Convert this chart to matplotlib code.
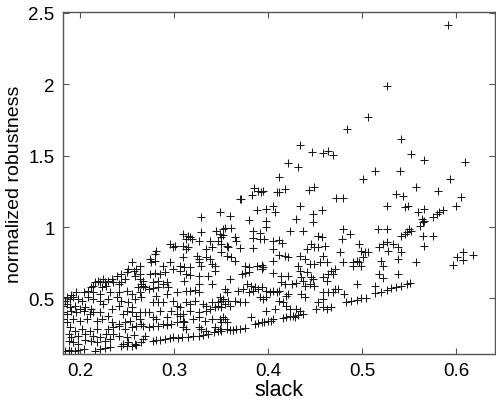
import numpy as np
import matplotlib
matplotlib.use('Agg')
import matplotlib.pyplot as plt

#points, grouped by region (slack, normalized robustness)
left_band = [
    (0.186, 0.508), (0.191, 0.524), (0.196, 0.548), (0.214, 0.590), (0.221, 0.613), (0.225, 0.636),
    (0.230, 0.625), (0.234, 0.636), (0.239, 0.660), (0.244, 0.671), (0.251, 0.706), (0.257, 0.695),
    (0.255, 0.753), (0.250, 0.683), (0.260, 0.706), (0.264, 0.671), (0.258, 0.660),
    (0.216, 0.613), (0.219, 0.625), (0.227, 0.618), (0.235, 0.613), (0.241, 0.601), (0.244, 0.613),
    (0.248, 0.636), (0.264, 0.636), (0.265, 0.601),
    (0.212, 0.578), (0.223, 0.578), (0.228, 0.590), (0.262, 0.578), (0.267, 0.590),
    (0.204, 0.543), (0.209, 0.555), (0.214, 0.543), (0.221, 0.531), (0.232, 0.543), (0.241, 0.543),
    (0.250, 0.555), (0.255, 0.531), (0.264, 0.543),
    (0.184, 0.485), (0.189, 0.497), (0.193, 0.508), (0.198, 0.497), (0.202, 0.485), (0.209, 0.508),
    (0.214, 0.497), (0.221, 0.485), (0.230, 0.497), (0.239, 0.508), (0.244, 0.485), (0.251, 0.473),
    (0.258, 0.497), (0.265, 0.508),
    (0.182, 0.450), (0.186, 0.461), (0.189, 0.438), (0.195, 0.450), (0.200, 0.427), (0.205, 0.438),
    (0.212, 0.427), (0.225, 0.461), (0.234, 0.427), (0.241, 0.450), (0.250, 0.415), (0.255, 0.438),
    (0.182, 0.403), (0.186, 0.392), (0.191, 0.415), (0.196, 0.403), (0.204, 0.415), (0.211, 0.392),
    (0.214, 0.403), (0.221, 0.408), (0.230, 0.380), (0.246, 0.392), (0.255, 0.403), (0.260, 0.380),
    (0.182, 0.357), (0.186, 0.333), (0.193, 0.357), (0.200, 0.345), (0.207, 0.357), (0.218, 0.345),
    (0.223, 0.357), (0.234, 0.333), (0.241, 0.322), (0.248, 0.333), (0.253, 0.345), (0.264, 0.357),
    (0.189, 0.298), (0.195, 0.275), (0.202, 0.287), (0.211, 0.275), (0.218, 0.287), (0.230, 0.287),
    (0.235, 0.298), (0.242, 0.310), (0.248, 0.287), (0.255, 0.298), (0.260, 0.310), (0.265, 0.322),
    (0.188, 0.252), (0.191, 0.228), (0.198, 0.240), (0.205, 0.252), (0.214, 0.240), (0.221, 0.228),
    (0.228, 0.252), (0.235, 0.252), (0.241, 0.240), (0.250, 0.228), (0.257, 0.245),
    (0.188, 0.205), (0.193, 0.193), (0.198, 0.181), (0.205, 0.212), (0.212, 0.205), (0.218, 0.193),
    (0.227, 0.205), (0.232, 0.217), (0.246, 0.181), (0.251, 0.193), (0.258, 0.181), (0.265, 0.198),
    (0.184, 0.135), (0.188, 0.140), (0.191, 0.135), (0.195, 0.135), (0.198, 0.140), (0.204, 0.147),
    (0.216, 0.135), (0.221, 0.147), (0.227, 0.151), (0.232, 0.158), (0.244, 0.165), (0.250, 0.170),
    (0.255, 0.170), (0.260, 0.175),
]

centre_band = [
    (0.349, 1.103), (0.329, 1.068), (0.281, 0.834), (0.280, 0.811), (0.296, 0.881), (0.299, 0.858),
    (0.301, 0.870), (0.310, 0.951), (0.315, 0.939), (0.317, 0.928), (0.313, 0.916), (0.319, 0.916),
    (0.310, 0.870), (0.315, 0.858), (0.313, 0.846), (0.329, 0.963), (0.326, 0.904), (0.338, 0.904),
    (0.334, 0.846), (0.340, 0.858), (0.345, 0.974), (0.349, 0.951), (0.350, 0.928), (0.352, 0.986),
    (0.347, 0.904), (0.350, 0.881), (0.310, 0.788), (0.324, 0.800), (0.327, 0.776), (0.334, 0.788),
    (0.338, 0.776), (0.350, 0.823), (0.274, 0.776), (0.276, 0.753), (0.280, 0.765), (0.306, 0.730),
    (0.311, 0.718), (0.317, 0.718), (0.326, 0.753), (0.329, 0.730), (0.340, 0.741), (0.343, 0.730),
    (0.264, 0.730), (0.288, 0.730), (0.296, 0.753), (0.299, 0.706),
    (0.274, 0.671), (0.280, 0.678), (0.285, 0.671), (0.290, 0.683), (0.306, 0.695), (0.313, 0.671),
    (0.317, 0.664), (0.327, 0.660), (0.336, 0.660), (0.343, 0.695), (0.267, 0.625), (0.278, 0.613),
    (0.283, 0.625), (0.288, 0.601), (0.292, 0.613), (0.311, 0.625), (0.327, 0.601), (0.340, 0.601),
    (0.269, 0.578), (0.273, 0.566), (0.278, 0.571), (0.283, 0.578), (0.294, 0.578), (0.303, 0.543),
    (0.313, 0.555), (0.317, 0.555), (0.322, 0.562), (0.327, 0.543), (0.292, 0.531), (0.281, 0.520),
    (0.278, 0.473), (0.283, 0.478), (0.288, 0.473), (0.299, 0.485), (0.303, 0.450), (0.306, 0.438),
    (0.313, 0.473), (0.317, 0.461), (0.322, 0.485), (0.331, 0.461), (0.334, 0.450), (0.340, 0.473),
    (0.347, 0.473), (0.350, 0.485), (0.352, 0.497),
    (0.264, 0.403), (0.269, 0.403), (0.273, 0.403), (0.285, 0.415), (0.297, 0.415), (0.303, 0.392),
    (0.306, 0.380), (0.310, 0.392), (0.317, 0.415), (0.326, 0.403), (0.334, 0.415), (0.338, 0.427),
    (0.343, 0.438), (0.347, 0.450), (0.278, 0.368), (0.281, 0.357), (0.292, 0.368), (0.310, 0.345),
    (0.311, 0.333), (0.320, 0.357), (0.327, 0.368), (0.333, 0.345), (0.340, 0.357), (0.349, 0.357),
    (0.350, 0.333), (0.267, 0.310), (0.273, 0.298), (0.278, 0.305), (0.283, 0.310), (0.288, 0.322),
    (0.292, 0.315), (0.297, 0.322), (0.303, 0.333), (0.310, 0.298), (0.313, 0.287), (0.326, 0.298),
    (0.329, 0.287), (0.334, 0.275), (0.343, 0.298), (0.349, 0.287), (0.269, 0.240), (0.267, 0.217),
    (0.278, 0.205), (0.281, 0.210), (0.285, 0.212), (0.290, 0.217), (0.296, 0.221), (0.299, 0.228),
    (0.304, 0.224), (0.308, 0.228), (0.315, 0.233), (0.320, 0.240), (0.326, 0.240), (0.331, 0.247),
    (0.336, 0.252), (0.342, 0.263), (0.347, 0.270), (0.350, 0.275),
]

mid_band = [
    (0.421, 1.448), (0.432, 1.417), (0.411, 1.347), (0.385, 1.271), (0.389, 1.252), (0.395, 1.250),
    (0.383, 1.224), (0.392, 1.242), (0.370, 1.196), (0.371, 1.198), (0.434, 1.145), (0.388, 1.121),
    (0.398, 1.126), (0.405, 1.145), (0.407, 1.107), (0.359, 1.079), (0.380, 1.051), (0.398, 1.044),
    (0.398, 0.998), (0.430, 1.056), (0.423, 0.974), (0.437, 0.974), (0.384, 0.974), (0.391, 0.958),
    (0.354, 0.991), (0.361, 0.991), (0.352, 0.944), (0.365, 0.928), (0.366, 0.904), (0.384, 0.921),
    (0.391, 0.916), (0.396, 0.916), (0.405, 0.904), (0.411, 0.911), (0.415, 0.886), (0.356, 0.870),
    (0.357, 0.858), (0.370, 0.851), (0.384, 0.851), (0.405, 0.846), (0.412, 0.804), (0.418, 0.795),
    (0.421, 0.788), (0.434, 0.795), (0.432, 0.730), (0.356, 0.795), (0.361, 0.788), (0.365, 0.765),
    (0.375, 0.730), (0.380, 0.718), (0.388, 0.730), (0.393, 0.734), (0.395, 0.718), (0.405, 0.765),
    (0.409, 1.242), (0.412, 1.247), (0.418, 1.266),
    (0.372, 0.671), (0.375, 0.678), (0.380, 0.683), (0.393, 0.706), (0.405, 0.678), (0.414, 0.660),
    (0.421, 0.655), (0.434, 0.695), (0.435, 0.648), (0.359, 0.636), (0.377, 0.601), (0.382, 0.590),
    (0.386, 0.578), (0.389, 0.566), (0.393, 0.578), (0.414, 0.613), (0.418, 0.601), (0.425, 0.601),
    (0.430, 0.608), (0.354, 0.566), (0.349, 0.508), (0.356, 0.543), (0.368, 0.555), (0.373, 0.566),
    (0.380, 0.543), (0.384, 0.555), (0.398, 0.555), (0.402, 0.543), (0.405, 0.555), (0.409, 0.543),
    (0.412, 0.555), (0.419, 0.520), (0.421, 0.531), (0.365, 0.485), (0.370, 0.473), (0.375, 0.473),
    (0.354, 0.461), (0.359, 0.450), (0.357, 0.485), (0.350, 0.438), (0.391, 0.508), (0.395, 0.497),
    (0.398, 0.508), (0.412, 0.485), (0.416, 0.473), (0.419, 0.450), (0.398, 0.415), (0.407, 0.427),
    (0.423, 0.427), (0.430, 0.427), (0.434, 0.415), (0.352, 0.368), (0.354, 0.357), (0.356, 0.333),
    (0.382, 0.368), (0.428, 0.368), (0.356, 0.287), (0.359, 0.282), (0.363, 0.282), (0.366, 0.287),
    (0.370, 0.287), (0.375, 0.294), (0.386, 0.322), (0.389, 0.329), (0.393, 0.333), (0.396, 0.333),
    (0.400, 0.345), (0.403, 0.345), (0.405, 0.357), (0.416, 0.361), (0.419, 0.368), (0.423, 0.380),
    (0.426, 0.380), (0.432, 0.385),
]

right_band = [
    (0.484, 1.685), (0.434, 1.573), (0.447, 1.522), (0.458, 1.517), (0.464, 1.529), (0.469, 1.505),
    (0.443, 1.261), (0.449, 1.278), (0.472, 1.203), (0.480, 1.203), (0.448, 1.091), (0.457, 1.121),
    (0.448, 1.037), (0.453, 0.939), (0.457, 0.928), (0.446, 0.881), (0.449, 0.858), (0.453, 0.858),
    (0.460, 0.870), (0.441, 0.846), (0.458, 0.800), (0.439, 0.776), (0.444, 0.741), (0.449, 0.741),
    (0.455, 0.753), (0.462, 0.753), (0.441, 0.683), (0.467, 0.695), (0.471, 0.706), (0.469, 0.671),
    (0.464, 0.671), (0.437, 0.625), (0.446, 0.648), (0.448, 0.636), (0.458, 0.648), (0.462, 0.625),
    (0.439, 0.590), (0.444, 0.601), (0.449, 0.590), (0.471, 0.566), (0.474, 0.566), (0.458, 0.543),
    (0.464, 0.543), (0.469, 0.543), (0.435, 0.531), (0.439, 0.508), (0.458, 0.497), (0.453, 0.473),
    (0.458, 0.438), (0.462, 0.427), (0.467, 0.438), (0.451, 0.427), (0.437, 0.392),
    (0.480, 0.986), (0.487, 0.951), (0.478, 0.916), (0.476, 0.823), (0.497, 0.881), (0.499, 0.834),
    (0.503, 0.823), (0.506, 0.823), (0.501, 0.788), (0.494, 0.765), (0.490, 0.753), (0.497, 0.753),
    (0.480, 0.753), (0.499, 0.730), (0.490, 0.730), (0.518, 0.858), (0.522, 0.881), (0.526, 0.893),
    (0.527, 0.834), (0.533, 0.881), (0.538, 0.858), (0.541, 0.823), (0.538, 0.776), (0.520, 0.765),
    (0.522, 0.730), (0.517, 0.986), (0.526, 0.986), (0.541, 0.939), (0.545, 0.951), (0.547, 0.963),
    (0.550, 0.986), (0.552, 0.974), (0.561, 1.009), (0.565, 1.033), (0.563, 1.056), (0.566, 1.044),
    (0.575, 1.068), (0.579, 1.091), (0.582, 1.107), (0.586, 1.119), (0.565, 0.939), (0.575, 0.939),
    (0.566, 0.870), (0.557, 0.753), (0.536, 1.231), (0.543, 1.219), (0.545, 1.138), (0.549, 1.149),
    (0.559, 1.103), (0.566, 1.126), (0.518, 0.671), (0.522, 0.646), (0.538, 0.671), (0.557, 1.278),
    (0.580, 1.254), (0.600, 1.149), (0.605, 1.208), (0.593, 1.336), (0.609, 1.453), (0.566, 1.469),
    (0.552, 1.510), (0.541, 1.615), (0.526, 1.988), (0.506, 1.767), (0.501, 1.336), (0.513, 1.394),
    (0.540, 1.389), (0.591, 2.413), (0.596, 0.737), (0.601, 0.793), (0.607, 0.828), (0.607, 0.772),
    (0.618, 0.804), (0.526, 1.145),
    (0.483, 0.473), (0.488, 0.485), (0.494, 0.492), (0.499, 0.501), (0.504, 0.503), (0.481, 0.531),
    (0.494, 0.601), (0.513, 0.585), (0.514, 0.536), (0.520, 0.548), (0.526, 0.557), (0.531, 0.571),
    (0.536, 0.580), (0.541, 0.590), (0.547, 0.599), (0.551, 0.608),
]

xTicks = [0.2, 0.3, 0.4, 0.5, 0.6]
xTickLabels = ['0.2', '0.3', '0.4', '0.5', '0.6']
yTicks = [0.5, 1, 1.5, 2, 2.5]
yTickLabels = ['0.5', '1', '1.5', '2', '2.5']

pts = np.array(left_band + centre_band + mid_band + right_band)

plt.rcParams['font.family'] = ['Liberation Sans', 'DejaVu Sans']

fig = plt.figure(figsize=(4.96, 4.02), dpi=100)
ax = fig.add_axes([0.127, 0.117, 0.871, 0.851])

ax.plot(pts[:, 0], pts[:, 1], '+', color='#1a1a1a', markersize=5.5, markeredgewidth=0.75)

ax.set_xlim(0.182, 0.641)
ax.set_ylim(0.112, 2.505)
ax.set_xticks(xTicks)
ax.set_xticklabels(xTickLabels)
ax.set_yticks(yTicks)
ax.set_yticklabels(yTickLabels)
ax.tick_params(direction='in', top=True, right=True, length=4, width=0.8,
               color='#555555', labelsize=13.5, pad=6)
for s in ax.spines.values():
    s.set_color('#555555')
    s.set_linewidth(1.0)

ax.set_xlabel('slack', fontsize=15.5, labelpad=0)
ax.set_ylabel('normalized robustness', fontsize=14, labelpad=4)

fig.savefig('out.png', dpi=100)
